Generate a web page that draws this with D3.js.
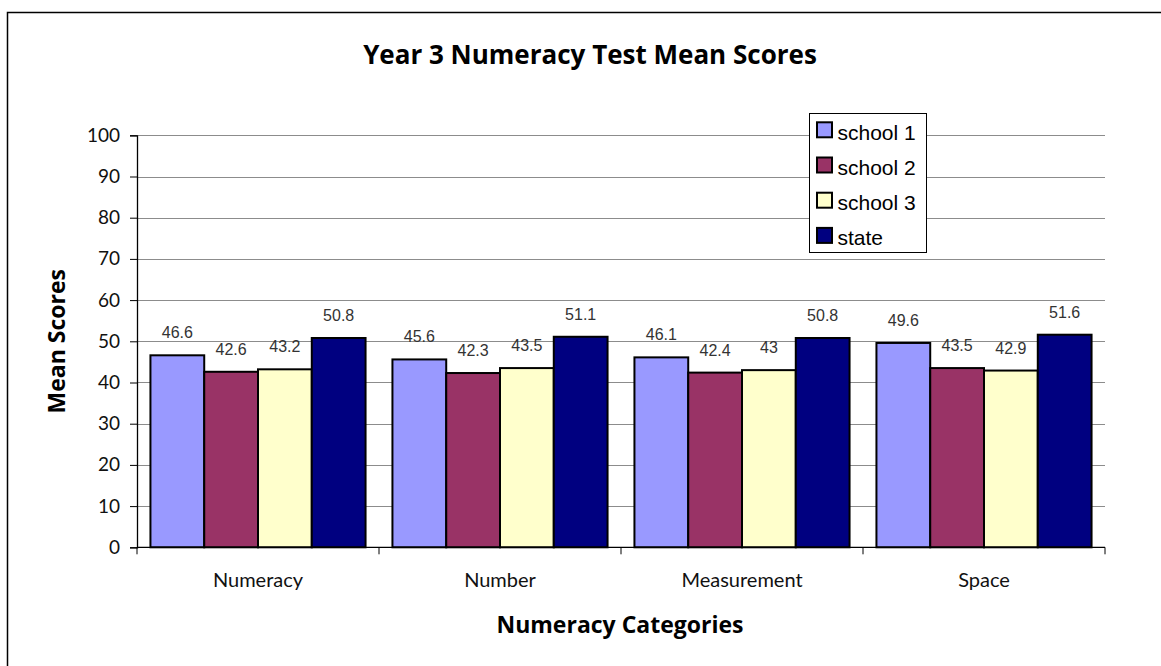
<!DOCTYPE html>
<html>
<head>
<meta charset="utf-8">
<script src="https://cdn.jsdelivr.net/npm/d3@7"></script>
<style>
  html, body { margin: 0; padding: 0; background: #fff; }
  svg { display: block; }
</style>
</head>
<body>
<svg id="chart" width="1161" height="666"></svg>
<script>
// Categories, series and values
const categories = ["Numeracy", "Number", "Measurement", "Space"];
const seriesNames = ["school 1", "school 2", "school 3", "state"];
const school1 = [46.6, 45.6, 46.1, 49.6];
const school2 = [42.6, 42.3, 42.4, 43.5];
const school3 = [43.2, 43.5, 43.0, 42.9];
const state   = [50.8, 51.1, 50.8, 51.6];
const seriesColors = ["#9999FF", "#993366", "#FFFFCC", "#000080"];
const yTicks = [0, 10, 20, 30, 40, 50, 60, 70, 80, 90, 100];

const seriesValues = [school1, school2, school3, state];

const svg = d3.select("#chart");
const W = 1161, H = 666;
const plot = { left: 137, right: 1105, top: 135.3, bottom: 547.3 };

const labelFont = "Lato, 'Open Sans', sans-serif";
const headFont = "'Open Sans', Lato, sans-serif";

// Outer chart border (runs off the right and bottom edges)
svg.append("rect")
  .attr("x", 7.5).attr("y", 12.5)
  .attr("width", W + 10).attr("height", H + 10)
  .attr("fill", "#fff")
  .attr("stroke", "#000")
  .attr("stroke-width", 1.5);

const x0 = d3.scaleBand()
  .domain(categories)
  .range([plot.left, plot.right])
  .paddingInner(0).paddingOuter(0);

// bars fill band/4.5 each -> 50% gap split either side
const x1 = d3.scaleBand()
  .domain(seriesNames)
  .range([0, x0.bandwidth()])
  .paddingInner(0)
  .paddingOuter(0.25);

const y = d3.scaleLinear().domain([0, 100]).range([plot.bottom, plot.top]);

// Horizontal gridlines
svg.append("g")
  .selectAll("line")
  .data(yTicks.filter(d => d > 0))
  .join("line")
  .attr("x1", plot.left).attr("x2", plot.right)
  .attr("y1", d => Math.round(y(d)) + 0.5).attr("y2", d => Math.round(y(d)) + 0.5)
  .attr("stroke", "#8c8c8c")
  .attr("stroke-width", 1);

// Y axis
const yAxis = d3.axisLeft(y).tickValues(yTicks).tickSize(7).tickPadding(10).tickFormat(d3.format("d"));
const gy = svg.append("g")
  .attr("transform", `translate(${plot.left},0)`)
  .call(yAxis);
gy.select(".domain").attr("stroke", "#000").attr("stroke-width", 1.3);
gy.selectAll(".tick line").attr("stroke", "#000");
gy.selectAll(".tick text")
  .attr("font-family", labelFont)
  .attr("font-size", 19)
  .attr("fill", "#111");

// Bars
const groups = svg.append("g")
  .selectAll("g")
  .data(categories)
  .join("g")
  .attr("transform", d => `translate(${x0(d)},0)`);

groups.selectAll("rect")
  .data((c, ci) => seriesNames.map((s, si) => ({ s, si, v: seriesValues[si][ci] })))
  .join("rect")
  .attr("x", d => x1(d.s))
  .attr("y", d => y(d.v))
  .attr("width", x1.bandwidth())
  .attr("height", d => y(0) - y(d.v))
  .attr("fill", d => seriesColors[d.si])
  .attr("stroke", "#000")
  .attr("stroke-width", 2);

// Value labels
groups.selectAll("text")
  .data((c, ci) => seriesNames.map((s, si) => ({ s, si, v: seriesValues[si][ci] })))
  .join("text")
  .attr("x", d => x1(d.s) + x1.bandwidth() / 2)
  .attr("y", d => y(d.v) - 17)
  .attr("text-anchor", "middle")
  .attr("font-family", "'Liberation Sans', Arial, sans-serif")
  .attr("font-size", 16)
  .attr("fill", "#333")
  .text(d => d.v);

// X axis with boundary ticks between categories
const xAxisG = svg.append("g");
xAxisG.append("line")
  .attr("x1", plot.left).attr("x2", plot.right)
  .attr("y1", plot.bottom).attr("y2", plot.bottom)
  .attr("stroke", "#000").attr("stroke-width", 1.3);
const boundaries = categories.map(c => x0(c)).concat([x0(categories[categories.length - 1]) + x0.bandwidth()]);
xAxisG.selectAll("line.tk")
  .data(boundaries)
  .join("line")
  .attr("class", "tk")
  .attr("x1", d => d).attr("x2", d => d)
  .attr("y1", plot.bottom).attr("y2", plot.bottom + 7)
  .attr("stroke", "#000");
xAxisG.selectAll("text")
  .data(categories)
  .join("text")
  .attr("x", d => x0(d) + x0.bandwidth() / 2)
  .attr("y", 587)
  .attr("text-anchor", "middle")
  .attr("font-family", labelFont)
  .attr("font-size", 20)
  .attr("fill", "#111")
  .text(d => d);

// Title and axis titles
svg.append("text")
  .attr("x", 590).attr("y", 64)
  .attr("text-anchor", "middle")
  .attr("font-family", headFont)
  .attr("font-weight", "bold")
  .attr("font-size", 26)
  .attr("fill", "#000")
  .text("Year 3 Numeracy Test Mean Scores");

svg.append("text")
  .attr("x", 620).attr("y", 633)
  .attr("text-anchor", "middle")
  .attr("font-family", headFont)
  .attr("font-weight", "bold")
  .attr("font-size", 23)
  .attr("fill", "#000")
  .text("Numeracy Categories");

svg.append("text")
  .attr("transform", `translate(65,${(plot.top + plot.bottom) / 2}) rotate(-90)`)
  .attr("text-anchor", "middle")
  .attr("font-family", headFont)
  .attr("font-weight", "bold")
  .attr("font-size", 23)
  .attr("fill", "#000")
  .text("Mean Scores");

// Legend
const legend = svg.append("g");
legend.append("rect")
  .attr("x", 809.5).attr("y", 113.5)
  .attr("width", 117).attr("height", 139)
  .attr("fill", "#fff")
  .attr("stroke", "#000")
  .attr("stroke-width", 1);
const items = legend.selectAll("g.item")
  .data(seriesNames)
  .join("g")
  .attr("class", "item")
  .attr("transform", (d, i) => `translate(0,${129.8 + i * 35.2})`);
items.append("rect")
  .attr("x", 817).attr("y", -7.5)
  .attr("width", 15).attr("height", 15)
  .attr("fill", (d, i) => seriesColors[i])
  .attr("stroke", "#000")
  .attr("stroke-width", 2);
items.append("text")
  .attr("x", 837.5).attr("y", 10)
  .attr("font-family", "'Liberation Sans', Arial, sans-serif")
  .attr("font-size", 21)
  .attr("fill", "#000")
  .text(d => d);
</script>
</body>
</html>
